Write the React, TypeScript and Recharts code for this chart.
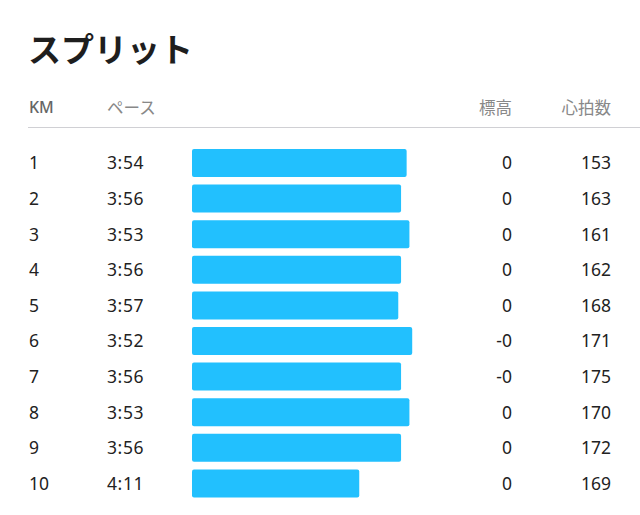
import { BarChart, Bar, XAxis, YAxis } from 'recharts';

const kmLabels = ['1', '2', '3', '4', '5', '6', '7', '8', '9', '10'];
const paceLabels = ['3:54', '3:56', '3:53', '3:56', '3:57', '3:52', '3:56', '3:53', '3:56', '4:11'];
const elevationLabels = ['0', '0', '0', '0', '0', '-0', '-0', '0', '0', '0'];
const heartRates = [153, 163, 161, 162, 168, 171, 175, 170, 172, 169];

// pace (sec/km) at which a bar would have zero length, and the fastest end of the scale
const PACE_SLOW = 311;
const PACE_FAST = 231;

const FONT = '"Noto Sans", "Noto Sans CJK JP", sans-serif';
const JP_FONT = '"Noto Sans CJK JP", "Noto Sans", sans-serif';

const toSeconds = (p: string) => {
  const [m, s] = p.split(':').map(Number);
  return m * 60 + s;
};

const rows = kmLabels.map((km, i) => ({
  km,
  pace: paceLabels[i],
  range: [toSeconds(paceLabels[i]), PACE_SLOW],
  elev: elevationLabels[i],
  hr: heartRates[i],
}));

function LeftTick({ y, payload }: { y?: number; payload?: { index: number } }) {
  const r = rows[payload?.index ?? 0];
  return (
    <g>
      <text x={29} y={y} dy={6.5} fontSize={17.5} fill="#222" fontFamily={FONT}>{r.km}</text>
      <text x={107} y={y} dy={6.5} fontSize={17.5} fill="#222" fontFamily={FONT} letterSpacing={0.6}>{r.pace}</text>
    </g>
  );
}

function RightTick({ y, payload }: { y?: number; payload?: { index: number } }) {
  const r = rows[payload?.index ?? 0];
  return (
    <g>
      <text x={512} y={y} dy={6.5} fontSize={17.5} fill="#222" textAnchor="end" fontFamily={FONT}>{r.elev}</text>
      <text x={611} y={y} dy={6.5} fontSize={17.5} fill="#222" textAnchor="end" fontFamily={FONT}>{r.hr}</text>
    </g>
  );
}

export default function App() {
  const head = { position: 'absolute' as const, top: 95, fontSize: 16.5, lineHeight: '24px', color: '#888' };
  return (
    <div style={{ position: 'absolute', left: 0, top: 0, width: 640, height: 515, background: '#fff', overflow: 'hidden' }}>
      <div style={{ position: 'absolute', left: 28, top: 23, fontFamily: JP_FONT, fontWeight: 700, fontSize: 33, color: '#1e1e1e', lineHeight: '50px' }}>
        スプリット
      </div>
      <div style={{ ...head, left: 29, fontFamily: FONT, fontWeight: 500, fontSize: 16, color: '#666' }}>KM</div>
      <div style={{ ...head, left: 107, fontFamily: JP_FONT }}>ペース</div>
      <div style={{ ...head, right: 128, fontFamily: JP_FONT }}>標高</div>
      <div style={{ ...head, right: 29, fontFamily: JP_FONT }}>心拍数</div>
      <div style={{ position: 'absolute', left: 28, top: 127, width: 612, height: 1, background: '#d0d0d4' }} />
      <div style={{ position: 'absolute', left: 0, top: 0 }}>
        <BarChart
          width={640}
          height={515}
          data={rows}
          layout="vertical"
          margin={{ top: 145, right: 0, bottom: 14, left: 0 }}
          barSize={28}
        >
          <XAxis type="number" domain={[PACE_FAST, PACE_SLOW]} reversed allowDataOverflow hide />
          <YAxis
            yAxisId="left"
            type="category"
            dataKey="km"
            width={192}
            axisLine={false}
            tickLine={false}
            tick={<LeftTick />}
          />
          <YAxis
            yAxisId="right"
            orientation="right"
            type="category"
            dataKey="km"
            width={225}
            axisLine={false}
            tickLine={false}
            tick={<RightTick />}
          />
          <Bar yAxisId="left" dataKey="range" fill="#22c0fe" radius={2} isAnimationActive={false} />
        </BarChart>
      </div>
    </div>
  );
}
